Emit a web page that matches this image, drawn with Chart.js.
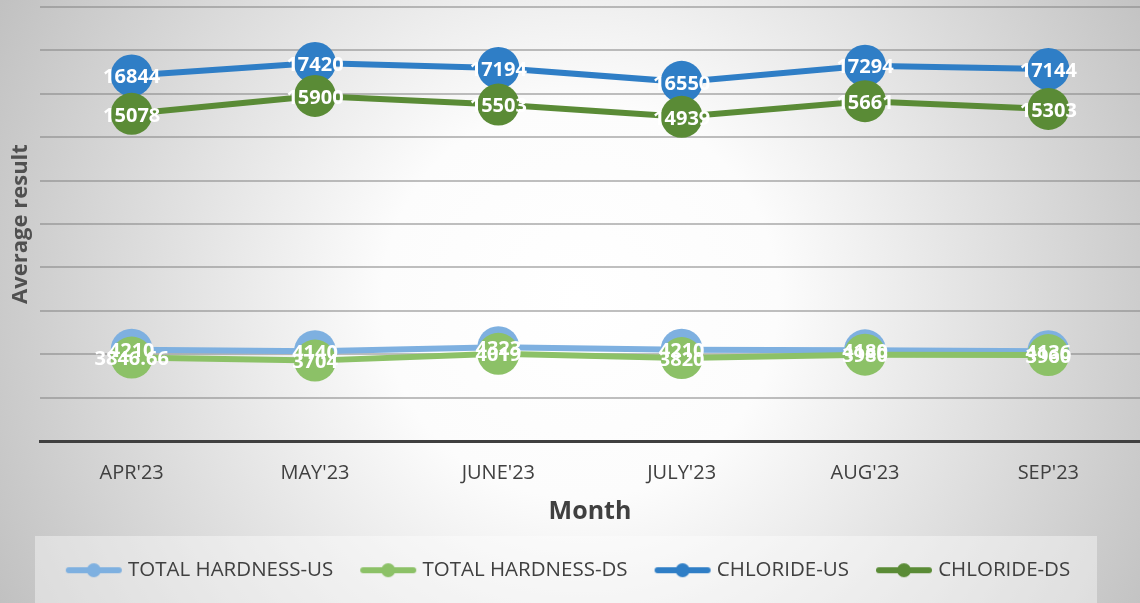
<!DOCTYPE html>
<html lang="en">
<head>
    <meta charset="UTF-8">
    <title>Average result by month</title>
    <style>
        body, html {
            margin: 0;
            padding: 0;
            background-color: #ffffff;
        }
        #wrap {
            width: 1140px;
            height: 603px;
        }
    </style>
</head>
<body>
    <div id="wrap">
        <canvas id="resultChart" width="1140" height="603"></canvas>
    </div>

    <script src="https://cdn.jsdelivr.net/npm/chart.js"></script>
    <script>
        // chart data
        const months = ["APR'23", "MAY'23", "JUNE'23", "JULY'23", "AUG'23", "SEP'23"];
        const seriesNames = ['TOTAL HARDNESS-US', 'TOTAL HARDNESS-DS', 'CHLORIDE-US', 'CHLORIDE-DS'];
        const hardnessUs = [4210, 4140, 4323, 4210, 4180, 4136];
        const hardnessDs = [3846.66, 3704, 4019, 3820, 3980, 3960];
        const chlorideUs = [16844, 17420, 17194, 16550, 17294, 17144];
        const chlorideDs = [15078, 15900, 15503, 14939, 15661, 15303];
        const yMin = 0;
        const yMax = 20000;
        const yStep = 2000;

        const colors = ['#7eb0e0', '#8cc167', '#2f7ec6', '#5a8b36'];
        const values = [hardnessUs, hardnessDs, chlorideUs, chlorideDs];
        const fontFamily = '"Open Sans", sans-serif';

        // small line+dot pictures for the legend
        function legendMarker(color) {
            const c = document.createElement('canvas');
            c.width = 58;
            c.height = 16;
            const g = c.getContext('2d');
            g.strokeStyle = color;
            g.lineWidth = 6;
            g.lineCap = 'round';
            g.beginPath();
            g.moveTo(4, 8);
            g.lineTo(54, 8);
            g.stroke();
            g.fillStyle = color;
            g.beginPath();
            g.arc(29, 8, 7, 0, Math.PI * 2);
            g.fill();
            return c;
        }
        const markers = colors.map(legendMarker);

        const backgroundPlugin = {
            id: 'background',
            beforeDraw(chart) {
                const ctx = chart.ctx;
                const w = chart.width, h = chart.height;
                ctx.save();
                const grad = ctx.createRadialGradient(580, 300, 0, 580, 300, 660);
                grad.addColorStop(0, '#ffffff');
                grad.addColorStop(0.3, '#fcfcfc');
                grad.addColorStop(1, '#c0c0c0');
                ctx.fillStyle = grad;
                ctx.fillRect(0, 0, w, h);
                // lighter box behind the legend
                ctx.fillStyle = 'rgba(255,255,255,0.4)';
                ctx.fillRect(35, 536, 1062, 67);
                ctx.restore();
            }
        };

        const valueLabelPlugin = {
            id: 'valueLabels',
            afterDatasetsDraw(chart) {
                const ctx = chart.ctx;
                ctx.save();
                ctx.font = 'bold 20px ' + fontFamily;
                ctx.fillStyle = '#ffffff';
                ctx.textAlign = 'center';
                ctx.textBaseline = 'middle';
                chart.data.datasets.forEach(function(ds, i) {
                    const meta = chart.getDatasetMeta(i);
                    meta.data.forEach(function(pt, j) {
                        ctx.fillText(String(ds.data[j]), pt.x, pt.y + 2);
                    });
                });
                ctx.restore();
            }
        };

        const datasets = seriesNames.map(function(name, i) {
            return {
                label: name,
                data: values[i],
                borderColor: colors[i],
                backgroundColor: colors[i],
                borderWidth: 6,
                pointRadius: 21,
                pointHoverRadius: 21,
                pointBorderWidth: 0,
                tension: 0,
                order: seriesNames.length - i
            };
        });

        new Chart(document.getElementById('resultChart').getContext('2d'), {
            type: 'line',
            data: {
                labels: months,
                datasets: datasets
            },
            options: {
                responsive: false,
                animation: false,
                devicePixelRatio: 1,
                layout: {
                    autoPadding: false,
                    padding: { top: 7, right: 0, bottom: 12.5, left: 0 }
                },
                plugins: {
                    tooltip: { enabled: false },
                    legend: {
                        position: 'bottom',
                        labels: {
                            usePointStyle: true,
                            pointStyleWidth: 48,
                            padding: 31,
                            color: '#404040',
                            font: { family: fontFamily, size: 20.5 },
                            generateLabels: function(chart) {
                                return chart.data.datasets.map(function(ds, i) {
                                    return {
                                        text: ds.label,
                                        fillStyle: colors[i],
                                        strokeStyle: colors[i],
                                        fontColor: '#404040',
                                        lineWidth: 0,
                                        pointStyle: markers[i],
                                        hidden: false,
                                        datasetIndex: i
                                    };
                                });
                            }
                        }
                    }
                },
                scales: {
                    x: {
                        offset: true,
                        grid: { display: false, drawTicks: false },
                        border: { display: true, color: '#404040', width: 3 },
                        ticks: {
                            padding: 20,
                            color: '#404040',
                            font: { family: fontFamily, size: 20 }
                        },
                        title: {
                            display: true,
                            text: 'Month',
                            color: '#404040',
                            padding: { top: 0, bottom: 2 },
                            font: { family: fontFamily, size: 25, weight: 'bold' }
                        },
                        afterFit: function(scale) { scale.height = 88; }
                    },
                    y: {
                        min: yMin,
                        max: yMax,
                        ticks: { display: false, stepSize: yStep },
                        grid: { color: 'rgba(128,128,128,0.5)', lineWidth: 2, drawTicks: false },
                        border: { display: false },
                        title: {
                            display: true,
                            text: 'Average result',
                            color: '#505050',
                            padding: { top: 8, bottom: 0 },
                            font: { family: fontFamily, size: 22, weight: 'bold' }
                        },
                        afterFit: function(scale) { scale.width = 40; }
                    }
                }
            },
            plugins: [backgroundPlugin, valueLabelPlugin]
        });
    </script>
</body>
</html>
